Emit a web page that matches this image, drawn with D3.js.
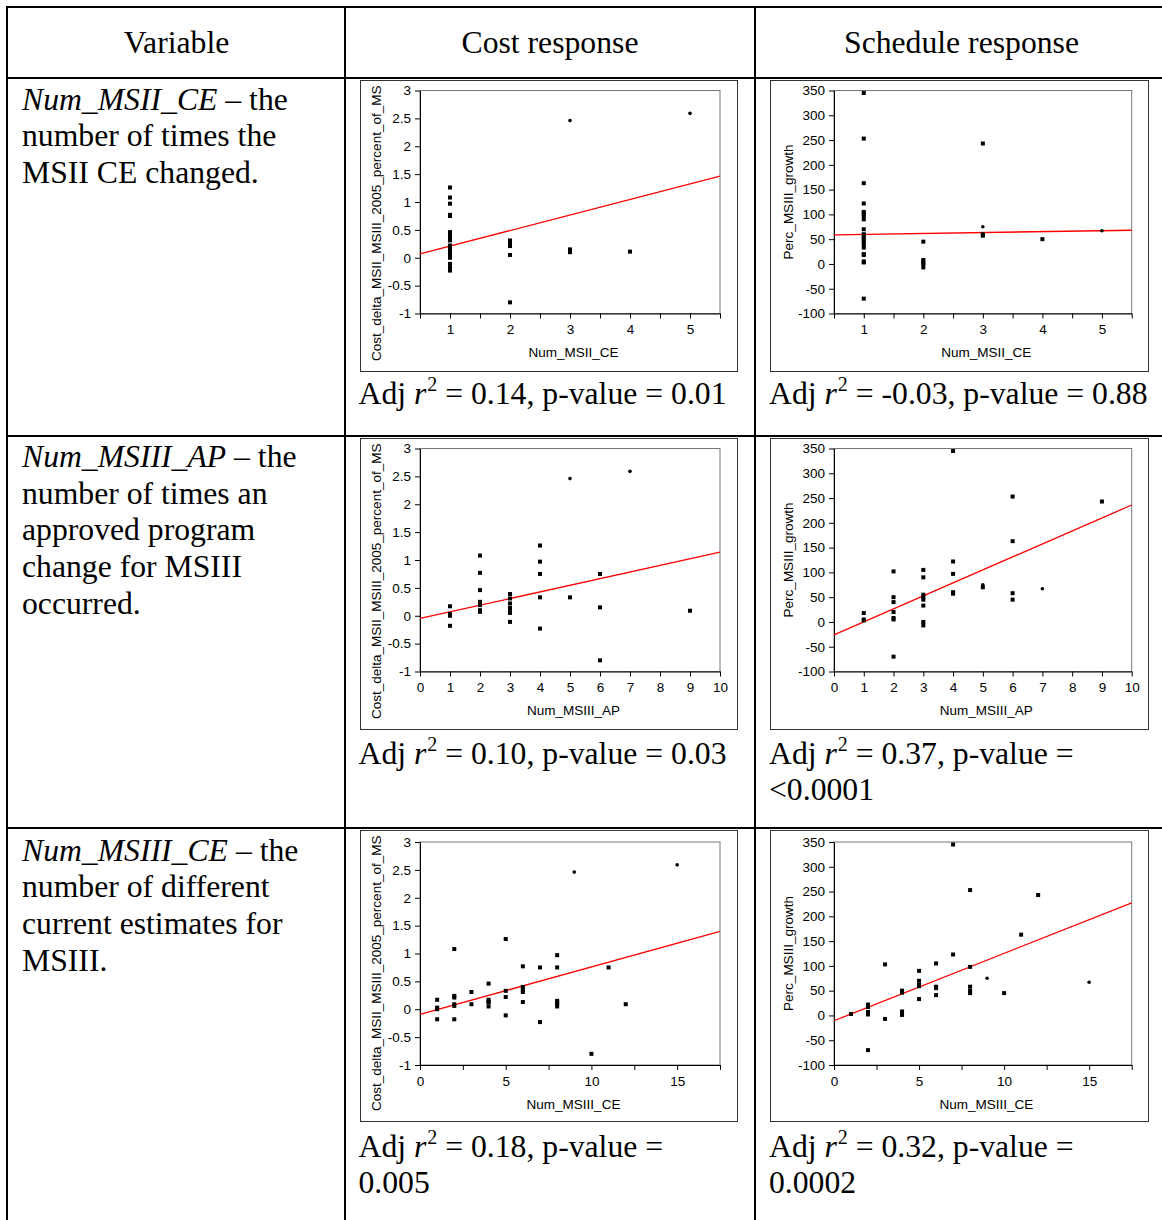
<!DOCTYPE html>
<html><head><meta charset="utf-8">
<script src="https://cdn.jsdelivr.net/npm/d3@7"></script>
<style>body{margin:0;background:#fff}svg{display:block}</style>
</head><body><svg id="c" width="1162" height="1220"></svg>
<script>
// ---------------- DATA ----------------
const headers = ["Variable", "Cost response", "Schedule response"];
const varNames = ["Num_MSII_CE", "Num_MSIII_AP", "Num_MSIII_CE"];
const varDescriptions = [
  [" \u2013 the", "number of times the", "MSII CE changed."],
  [" \u2013 the", "number of times an", "approved program", "change for MSIII", "occurred."],
  [" \u2013 the", "number of different", "current estimates for", "MSIII."]
];
const costAxisTitle = "Cost_delta_MSII_MSIII_2005_percent_of_MS";
const schedAxisTitle = "Perc_MSIII_growth";
const costYTicks = [-1, -0.5, 0, 0.5, 1, 1.5, 2, 2.5, 3];
const schedYTicks = [-100, -50, 0, 50, 100, 150, 200, 250, 300, 350];
const msiiCeTicks = [0.5, 1, 1.5, 2, 2.5, 3, 3.5, 4, 4.5, 5, 5.5];
const msiiCeLabels = [1, 2, 3, 4, 5];
const msiiiApTicks = [0, 1, 2, 3, 4, 5, 6, 7, 8, 9, 10];
const msiiiApLabels = [0, 1, 2, 3, 4, 5, 6, 7, 8, 9, 10];
const msiiiCeTicks = [0, 2.5, 5, 7.5, 10, 12.5, 15, 17.5];
const msiiiCeLabels = [0, 5, 10, 15];
const msiiCeDomain = [0.5, 5.5];
const msiiiApDomain = [0, 10];
const msiiiCeDomain = [0, 17.5];
const costDomain = [-1, 3];
const schedDomain = [-100, 350];

// points grouped by x value: [x, [y values]]
const costVsMsiiCe = [
  [1, [1.26, 1.08, 0.97, 0.77, 0.75, 0.75, 0.46, 0.39, 0.33, 0.31, 0.22, 0.19, 0.17, 0.14, 0.10, 0.05, 0.03, 0.0, -0.11, -0.18, -0.23]],
  [2, [0.31, 0.25, 0.21, 0.05, -0.80]],
  [3, [0.15, 0.10]],
  [4, [0.11]]
];
const costVsMsiiCeFlagged = [[3, 2.46], [5, 2.59]];
const costVsMsiiCeFit = [-0.07, 0.279];

const schedVsMsiiCe = [
  [1, [345, 253, 163, 122, 105, 102, 97, 90, 70, 60, 55, 50, 45, 40, 33, 20, 18, 5, 3, -70]],
  [2, [45, 8, 3, 0, -7]],
  [3, [243, 60, 57]],
  [4, [50]]
];
const schedVsMsiiCeFlagged = [[3, 75], [5, 67]];
const schedVsMsiiCeFit = [57.8, 1.86];

const costVsMsiiiAp = [
  [1, [0.17, 0.03, 0.0, -0.18]],
  [2, [1.08, 0.77, 0.46, 0.25, 0.22, 0.19, 0.10, 0.07]],
  [3, [0.39, 0.31, 0.22, 0.14, 0.10, 0.05, -0.11]],
  [4, [1.26, 0.97, 0.75, 0.33, -0.23]],
  [5, [0.33]],
  [6, [0.75, 0.15, -0.80]],
  [9, [0.09]]
];
const costVsMsiiiApFlagged = [[5, 2.46], [7, 2.59]];
const costVsMsiiiApFit = [-0.049, 0.119];

const schedVsMsiiiAp = [
  [1, [18, 5, 3]],
  [2, [102, 50, 40, 20, 8, 5, -70]],
  [3, [105, 90, 55, 50, 45, 33, 0, -7]],
  [4, [345, 122, 97, 60, 57]],
  [5, [70]],
  [6, [253, 163, 58, 45]],
  [9, [243]]
];
const schedVsMsiiiApFlagged = [[5, 75], [7, 67]];
const schedVsMsiiiApFit = [-26, 26.2];

const costVsMsiiiCe = [
  [1, [0.17, 0.03, 0.0, -0.18]],
  [2, [1.08, 0.24, 0.21, 0.09, 0.06, -0.18]],
  [3, [0.31, 0.09]],
  [4, [0.46, 0.17, 0.14, 0.12, 0.05]],
  [5, [1.26, 0.33, 0.22, -0.11]],
  [6, [0.77, 0.40, 0.35, 0.31, 0.13]],
  [7, [0.75, -0.23]],
  [8, [0.97, 0.75, 0.15, 0.12, 0.09, 0.05]],
  [10, [-0.80]],
  [11, [0.75]],
  [12, [0.09]]
];
const costVsMsiiiCeFlagged = [[9, 2.46], [15, 2.59]];
const costVsMsiiiCeFit = [-0.091, 0.0849];

const schedVsMsiiiCe = [
  [1, [3]],
  [2, [22, 17, 7, 2, -70]],
  [3, [103, -7]],
  [4, [50, 46, 8, 1]],
  [5, [90, 70, 62, 59, 33]],
  [6, [105, 58, 55, 41]],
  [7, [345, 123]],
  [8, [253, 98, 58, 50, 45]],
  [10, [45]],
  [11, [163]],
  [12, [243]]
];
const schedVsMsiiiCeFlagged = [[9, 75], [15, 67]];
const schedVsMsiiiCeFit = [-10.7, 13.6];

const costAdjR2 = ["0.14", "0.10", "0.18"];
const costPValue = ["0.01", "0.03", "0.005"];
const schedAdjR2 = ["-0.03", "0.37", "0.32"];
const schedPValue = ["0.88", "<0.0001", "0.0002"];

// ---------------- LAYOUT ----------------
const svg = d3.select("#c");
const SERIF = "'Liberation Serif','Times New Roman',Times,serif";
const SANS = "'Liberation Sans',Arial,Helvetica,sans-serif";
const colX = [345, 755];
const rowY = [78, 436, 828];

// table lines
const tl = svg.append("g").attr("stroke", "#000").attr("stroke-width", 2);
tl.append("line").attr("x1", 6).attr("x2", 1162).attr("y1", 7).attr("y2", 7);
tl.append("line").attr("x1", 7).attr("x2", 7).attr("y1", 6).attr("y2", 1220);
colX.forEach(x => tl.append("line").attr("x1", x).attr("x2", x).attr("y1", 6).attr("y2", 1220));
rowY.forEach(y => tl.append("line").attr("x1", 6).attr("x2", 1162).attr("y1", y).attr("y2", y));

// headers
const headerCenters = [176.5, 550, 961.5];
headers.forEach((h, i) => svg.append("text").attr("x", headerCenters[i]).attr("y", 53)
  .attr("text-anchor", "middle").attr("font-family", SERIF).attr("font-size", 31.7).text(h));

// left column
const leftBase = [109.5, 467, 860.5];
varDescriptions.forEach((lines, r) => {
  lines.forEach((ln, i) => {
    const t = svg.append("text").attr("x", 22).attr("y", leftBase[r] + i * 36.7)
      .attr("font-family", SERIF).attr("font-size", 31.7);
    if (i === 0) {
      t.append("tspan").attr("font-style", "italic").text(varNames[r]);
      t.append("tspan").text(ln);
    } else t.text(ln);
  });
});

const plots = [
  [{data: costVsMsiiCe, flag: costVsMsiiCeFlagged, fit: costVsMsiiCeFit, xd: msiiCeDomain, xt: msiiCeTicks, xl: msiiCeLabels, cost: true},
   {data: schedVsMsiiCe, flag: schedVsMsiiCeFlagged, fit: schedVsMsiiCeFit, xd: msiiCeDomain, xt: msiiCeTicks, xl: msiiCeLabels, cost: false}],
  [{data: costVsMsiiiAp, flag: costVsMsiiiApFlagged, fit: costVsMsiiiApFit, xd: msiiiApDomain, xt: msiiiApTicks, xl: msiiiApLabels, cost: true},
   {data: schedVsMsiiiAp, flag: schedVsMsiiiApFlagged, fit: schedVsMsiiiApFit, xd: msiiiApDomain, xt: msiiiApTicks, xl: msiiiApLabels, cost: false}],
  [{data: costVsMsiiiCe, flag: costVsMsiiiCeFlagged, fit: costVsMsiiiCeFit, xd: msiiiCeDomain, xt: msiiiCeTicks, xl: msiiiCeLabels, cost: true},
   {data: schedVsMsiiiCe, flag: schedVsMsiiiCeFlagged, fit: schedVsMsiiiCeFit, xd: msiiiCeDomain, xt: msiiiCeTicks, xl: msiiiCeLabels, cost: false}]
];

const frameX = [[360, 738], [770, 1149]];
const plotX = [[420, 720], [834, 1131.7]];
const plotTop = [90.5, 448.5, 842];
const plotBot = [313.5, 671.5, 1065];
const statBase = [404, 764, 1157];
const statX = [358.5, 769];
const FS = 13.5;

plots.forEach((row, r) => {
  row.forEach((p, c) => {
    const g = svg.append("g");
    const fx0 = frameX[c][0], fx1 = frameX[c][1];
    const fy0 = rowY[r] + 2, fy1 = rowY[r] + 294;
    const clipId = `clip${r}${c}`;
    svg.append("clipPath").attr("id", clipId).append("rect")
      .attr("x", fx0).attr("y", fy0 + 1).attr("width", fx1 - fx0).attr("height", fy1 - fy0 - 1);
    g.append("rect").attr("x", fx0 + 0.5).attr("y", fy0 + 0.5).attr("width", fx1 - fx0 - 1).attr("height", fy1 - fy0 - 1)
      .attr("fill", "none").attr("stroke", "#333").attr("stroke-width", 1);

    const x = d3.scaleLinear().domain(p.xd).range(plotX[c]);
    const y = d3.scaleLinear().domain(p.cost ? costDomain : schedDomain).range([plotBot[r], plotTop[r]]);
    const px0 = plotX[c][0], px1 = plotX[c][1];

    // plot area border (top/right gray)
    g.append("rect").attr("x", px0).attr("y", plotTop[r]).attr("width", px1 - px0).attr("height", plotBot[r] - plotTop[r])
      .attr("fill", "none").attr("stroke", "#777").attr("stroke-width", 1);

    // axes
    const xa = g.append("g").attr("transform", `translate(0,${plotBot[r]})`)
      .call(d3.axisBottom(x).tickValues(p.xt).tickSize(5).tickSizeOuter(0).tickPadding(6)
        .tickFormat(d => p.xl.includes(d) ? String(d) : ""));
    const ya = g.append("g").attr("transform", `translate(${px0},0)`)
      .call(d3.axisLeft(y).tickValues(p.cost ? costYTicks : schedYTicks).tickSize(5).tickSizeOuter(0).tickPadding(4)
        .tickFormat(d => String(d)));
    [xa, ya].forEach(a => {
      a.attr("font-family", SANS).attr("font-size", FS);
      a.selectAll("path,line").attr("stroke", "#000").attr("stroke-width", 1);
      a.selectAll("text").attr("fill", "#000");
    });

    // titles
    g.append("text").attr("x", (px0 + px1) / 2 + 3.5).attr("y", plotBot[r] + 43.5)
      .attr("text-anchor", "middle").attr("font-family", SANS).attr("font-size", FS).text(varNames[r]);
    if (p.cost) {
      g.append("g").attr("clip-path", `url(#${clipId})`)
        .append("text")
        .attr("transform", `translate(381,${rowY[r] + 283}) rotate(-90)`)
        .attr("text-anchor", "start").attr("font-family", SANS).attr("font-size", FS).text(costAxisTitle);
    } else {
      g.append("text")
        .attr("transform", `translate(792.5,${(plotTop[r] + plotBot[r]) / 2}) rotate(-90)`)
        .attr("text-anchor", "middle").attr("font-family", SANS).attr("font-size", FS).text(schedAxisTitle);
    }

    // fit line
    const [b0, b1] = p.fit;
    g.append("line")
      .attr("x1", x(p.xd[0])).attr("y1", y(b0 + b1 * p.xd[0]))
      .attr("x2", x(p.xd[1])).attr("y2", y(b0 + b1 * p.xd[1]))
      .attr("stroke", "#ff0000").attr("stroke-width", 1.3);

    // points
    const pts = p.data.flatMap(([xv, ys]) => ys.map(yv => [xv, yv]));
    g.selectAll("rect.pt").data(pts).join("rect").attr("class", "pt")
      .attr("x", d => x(d[0]) - 2).attr("y", d => y(d[1]) - 2).attr("width", 4).attr("height", 4).attr("fill", "#000");
    g.selectAll("circle.fl").data(p.flag).join("circle").attr("class", "fl")
      .attr("cx", d => x(d[0])).attr("cy", d => y(d[1])).attr("r", 1.8).attr("fill", "#000");

    // stats text
    const r2 = p.cost ? costAdjR2[r] : schedAdjR2[r];
    const pv = p.cost ? costPValue[r] : schedPValue[r];
    const st = svg.append("text").attr("x", statX[c]).attr("y", statBase[r])
      .attr("font-family", SERIF).attr("font-size", 31.7);
    st.append("tspan").text("Adj ");
    st.append("tspan").attr("font-style", "italic").text("r");
    st.append("tspan").attr("font-size", 20).attr("dy", -13).attr("dx", 1).text("2");
    const rest = st.append("tspan").attr("dy", 13).text(` = ${r2}, p-value = ${pv}`);
    const maxW = c === 0 ? 375 : 385;
    if (st.node().getComputedTextLength() > maxW) {
      rest.text(` = ${r2}, p-value =`);
      svg.append("text").attr("x", statX[c]).attr("y", statBase[r] + 35.5)
        .attr("font-family", SERIF).attr("font-size", 31.7).text(pv);
    }
  });
});
</script>
</body></html>
